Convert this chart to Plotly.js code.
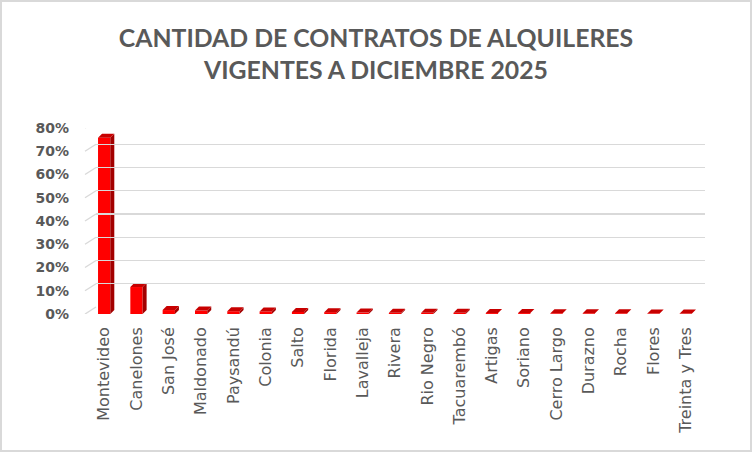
<!DOCTYPE html>
<html>
<head>
<meta charset="utf-8">
<script src="https://cdn.plot.ly/plotly-3.0.1.min.js"></script>
<style>
  html, body { margin: 0; padding: 0; background: #ffffff; }
  #wrap { position: relative; width: 752px; height: 452px; }
  #chart { width: 752px; height: 452px; }
  #frame { position: absolute; left: 0; top: 0; width: 752px; height: 452px;
           box-sizing: border-box; border: 2px solid #d9d9d9; pointer-events: none; }
</style>
</head>
<body>
<div id="wrap">
  <div id="chart"></div>
  <div id="frame"></div>
</div>
<script>
// Departamentos y participación (%) en los contratos vigentes
const departamentos = ['Montevideo', 'Canelones', 'San José', 'Maldonado', 'Paysandú', 'Colonia',
  'Salto', 'Florida', 'Lavalleja', 'Rivera', 'Rio Negro', 'Tacuarembó', 'Artigas', 'Soriano',
  'Cerro Largo', 'Durazno', 'Rocha', 'Flores', 'Treinta y Tres'];
const participacion = [75.8, 11.6, 1.7, 1.5, 1.2, 1.1, 0.9, 0.8, 0.6, 0.5, 0.5, 0.5, 0.4, 0.4,
  0.3, 0.3, 0.3, 0.2, 0.2];
const yTicks = [0, 10, 20, 30, 40, 50, 60, 70, 80];
const yTickText = ['0%', '10%', '20%', '30%', '40%', '50%', '60%', '70%', '80%'];

// Geometry of the pseudo-3D frame (pixels)
const W = 752, H = 452;
const plotL = 88, plotR = 705, plotT = 121, plotB = 314;
const plotW = plotR - plotL, plotH = plotB - plotT;
const wallShift = 7;          // vertical offset of back wall vs. front edge
const frontRight = 702;        // right end of the front category axis
const backLeft = 96;           // left end of the back-wall gridlines
const yMax = 80;
const pxPerUnit = (plotH - wallShift) / yMax;

const barW = 0.38;
const depthX = 4 / ((frontRight - plotL) / departamentos.length);  // category units
const depthY = 4 / pxPerUnit;                                       // percent units

const idx = departamentos.map((_, i) => i);

// Side and top faces of each column
const sideX = [], sideY = [], topX = [], topY = [];
participacion.forEach((v, i) => {
  const l = i - barW / 2, r = i + barW / 2;
  sideX.push(r, r + depthX, r + depthX, r, r, null);
  sideY.push(0, depthY, v + depthY, v, 0, null);
  topX.push(l, l + depthX, r + depthX, r, l, null);
  topY.push(v, v + depthY, v + depthY, v, v, null);
});

const traces = [
  {
    type: 'bar', x: idx, y: participacion, width: barW,
    marker: { color: '#ff0000', line: { width: 0 } },
    hoverinfo: 'skip', xaxis: 'x', yaxis: 'y'
  },
  {
    type: 'scatter', mode: 'lines', x: sideX, y: sideY, fill: 'toself',
    fillcolor: '#a30000', line: { width: 0, color: '#a30000' },
    hoverinfo: 'skip', xaxis: 'x', yaxis: 'y'
  },
  {
    type: 'scatter', mode: 'lines', x: topX, y: topY, fill: 'toself',
    fillcolor: '#c80000', line: { width: 0, color: '#c80000' },
    hoverinfo: 'skip', xaxis: 'x', yaxis: 'y'
  },
  // invisible trace to realise the back-wall axes
  {
    type: 'scatter', mode: 'markers', x: [0], y: [0], marker: { opacity: 0 },
    hoverinfo: 'skip', xaxis: 'x2', yaxis: 'y2'
  }
];

// Side-wall diagonals joining each tick to its back-wall gridline
const shapes = yTicks.map(v => ({
  type: 'line', layer: 'below',
  xref: 'paper', yref: 'y',
  x0: (85 - plotL) / plotW, x1: (backLeft - plotL) / plotW,
  y0: v, y1: v + wallShift / pxPerUnit,
  line: { color: '#d9d9d9', width: 1.4 }
}));

const layout = {
  width: W, height: H,
  margin: { l: plotL, r: W - plotR, t: plotT, b: H - plotB, pad: 0 },
  paper_bgcolor: '#ffffff', plot_bgcolor: 'rgba(0,0,0,0)',
  showlegend: false,
  title: {
    text: 'CANTIDAD DE CONTRATOS DE ALQUILERES<br>VIGENTES A DICIEMBRE 2025',
    font: { family: 'Lato, "Open Sans", sans-serif', size: 24.8, color: '#595959', weight: 'bold' },
    x: 0.5, xanchor: 'center', xref: 'container',
    y: (H - 47) / H, yanchor: 'middle', yref: 'container'
  },
  xaxis: {
    domain: [0, (frontRight - plotL) / plotW],
    range: [-0.5, departamentos.length - 0.5],
    tickmode: 'array', tickvals: idx, ticktext: departamentos,
    tickangle: -90, ticks: '', ticklabelstandoff: 9,
    tickfont: { family: '"DejaVu Sans", Verdana, sans-serif', size: 16, color: '#595959' },
    showgrid: false, zeroline: false, showline: false, fixedrange: true
  },
  yaxis: {
    domain: [0, (plotH - wallShift) / plotH],
    range: [0, yMax],
    tickmode: 'array', tickvals: yTicks, ticktext: yTickText,
    ticks: '', ticklabelstandoff: 18,
    tickfont: { family: '"DejaVu Sans", Verdana, sans-serif', size: 14, color: '#595959', weight: 'bold' },
    showgrid: false, zeroline: false, showline: false, fixedrange: true
  },
  xaxis2: {
    domain: [(backLeft - plotL) / plotW, 1], anchor: 'y2',
    range: [0, 1], visible: false, fixedrange: true
  },
  yaxis2: {
    domain: [wallShift / plotH, 1], anchor: 'x2',
    range: [0, yMax], tickvals: yTicks, showticklabels: false, ticks: '',
    showgrid: true, gridcolor: '#d9d9d9', gridwidth: 1.4,
    zeroline: false, showline: false, fixedrange: true
  },
  shapes: shapes
};

Plotly.newPlot('chart', traces, layout, { displayModeBar: false, staticPlot: true });
</script>
</body>
</html>
